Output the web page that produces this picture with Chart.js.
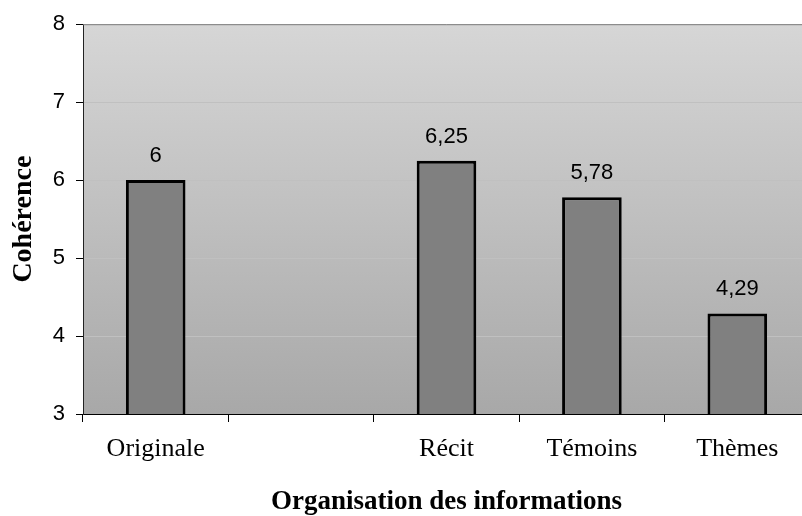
<!DOCTYPE html>
<html>
<head>
<meta charset="utf-8">
<script src="https://cdn.jsdelivr.net/npm/chart.js@4/dist/chart.umd.min.js"></script>
<style>
    html, body { margin: 0; padding: 0; background: #fff; overflow: hidden; }
    #wrap { width: 802px; height: 516px; overflow: hidden; }
</style>
</head>
<body>
<div id="wrap"><canvas id="cohChart" width="812" height="516"></canvas></div>
<script>
// Chart data
const categories = ['Originale', '', 'Récit', 'Témoins', 'Thèmes'];
const coherence = [6, null, 6.25, 5.78, 4.29];
const yTicks = [3, 4, 5, 6, 7, 8];

const serif = "'Liberation Serif', 'Times New Roman', serif";
const sans = "'Liberation Sans', Arial, sans-serif";

// Grey gradient behind the plot + grey top edge
const plotBackground = {
    id: 'plotBackground',
    beforeDraw(chart) {
        const { ctx, chartArea: a } = chart;
        const g = ctx.createLinearGradient(0, a.top, 0, a.bottom);
        g.addColorStop(0, '#d6d6d6');
        g.addColorStop(1, '#a8a8a8');
        ctx.save();
        ctx.fillStyle = g;
        ctx.fillRect(a.left, a.top, a.right - a.left, a.bottom - a.top);
        ctx.restore();
    },
    afterDraw(chart) {
        const { ctx, chartArea: a } = chart;
        ctx.save();
        ctx.strokeStyle = '#808080';
        ctx.lineWidth = 1;
        ctx.beginPath();
        ctx.moveTo(a.left, a.top + 0.5);
        ctx.lineTo(a.right, a.top + 0.5);
        ctx.stroke();
        ctx.restore();
    }
};

// Value labels above each bar, French decimal comma
const valueLabels = {
    id: 'valueLabels',
    afterDatasetsDraw(chart) {
        const { ctx } = chart;
        const meta = chart.getDatasetMeta(0);
        ctx.save();
        ctx.font = '22px ' + sans;
        ctx.fillStyle = '#000';
        ctx.textAlign = 'center';
        ctx.textBaseline = 'middle';
        meta.data.forEach((bar, i) => {
            const v = coherence[i];
            if (v == null) return;
            ctx.fillText(String(v).replace('.', ','), bar.x, bar.y - 24);
        });
        ctx.restore();
    }
};

new Chart(document.getElementById('cohChart'), {
    type: 'bar',
    data: {
        labels: categories,
        datasets: [{
            data: coherence,
            backgroundColor: '#808080',
            borderColor: '#000',
            borderWidth: 3,
            borderSkipped: false,
            barPercentage: 0.41,
            categoryPercentage: 1
        }]
    },
    options: {
        responsive: false,
        animation: false,
        devicePixelRatio: 1,
        layout: { padding: { top: 22, right: 2, bottom: 0, left: 0 } },
        plugins: {
            legend: { display: false },
            tooltip: { enabled: false }
        },
        scales: {
            x: {
                grid: {
                    offset: true,
                    drawOnChartArea: false,
                    tickLength: 8,
                    tickColor: '#000'
                },
                border: { color: '#000', width: 1 },
                ticks: {
                    color: '#000',
                    padding: 12,
                    font: { family: serif, size: 26 }
                },
                title: {
                    display: true,
                    text: 'Organisation des informations',
                    color: '#000',
                    padding: { top: 0, bottom: 0 },
                    font: { family: serif, size: 27, weight: 'bold', lineHeight: 1 }
                },
                afterFit(scale) { scale.height = 102; }
            },
            y: {
                min: 3,
                max: 8,
                afterBuildTicks(scale) { scale.ticks = yTicks.map(v => ({ value: v })); },
                grid: {
                    color: '#c0c0c0',
                    tickColor: '#000',
                    tickLength: 7
                },
                border: { color: '#222', width: 1 },
                ticks: {
                    color: '#000',
                    padding: 11,
                    font: { family: sans, size: 22 }
                },
                title: {
                    display: true,
                    text: 'Cohérence',
                    color: '#000',
                    padding: { top: 10, bottom: 0 },
                    font: { family: serif, size: 28, weight: 'bold', lineHeight: 1 }
                },
                afterFit(scale) { scale.width = 83; }
            }
        }
    },
    plugins: [plotBackground, valueLabels]
});
</script>
</body>
</html>
